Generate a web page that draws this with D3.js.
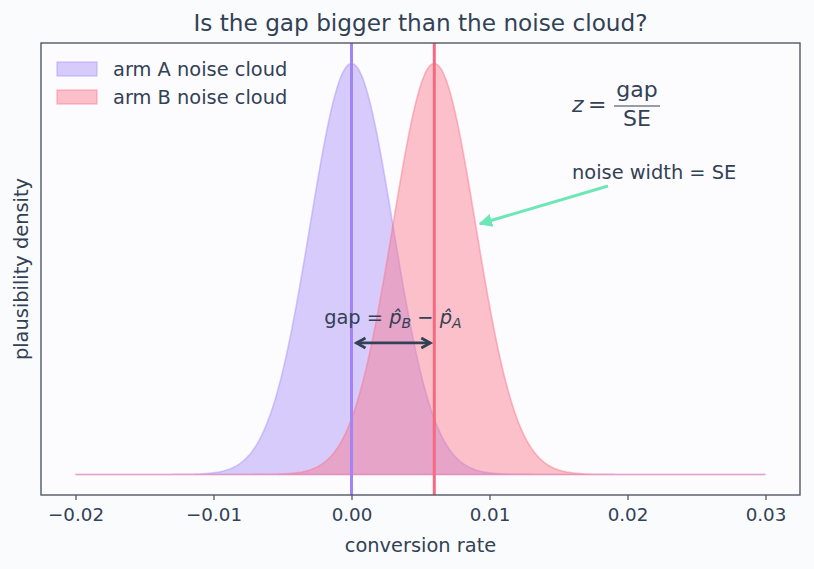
<!DOCTYPE html>
<html>
<head>
<meta charset="utf-8">
<script src="https://cdn.jsdelivr.net/npm/d3@7"></script>
<style>
  body { margin: 0; background: #fafbfd; }
  text { font-family: "DejaVu Sans", sans-serif; fill: #334155; }
</style>
</head>
<body>
<svg id="chart"></svg>
<script>
// arms: noise cloud centres and the shared standard error
var armNames = ["arm A noise cloud", "arm B noise cloud"];
var armMeans = [0.000, 0.006];
var armSE = [0.003, 0.003];
var armColors = ["#a78bfa", "#fb7185"];
var lineColors = ["#a384f7", "#f66a80"];

// x extent of the sampled curves and the tick labels
var xExtent = [-0.02, 0.03];
var xTicks = [-0.02, -0.01, 0.00, 0.01, 0.02, 0.03];
var nSamples = 400;

var screen = {width: 814, height: 569};
var margins = {top: 43, bottom: 74, left: 41, right: 14};
var graph = {
    width: screen.width - margins.left - margins.right,
    height: screen.height - margins.top - margins.bottom
};

var normalPdf = function(x, mu, sd)
{
    var z = (x - mu) / sd;
    return Math.exp(-0.5 * z * z) / (sd * Math.sqrt(2 * Math.PI));
}

var svg = d3.select("#chart")
    .attr("width", screen.width)
    .attr("height", screen.height);

svg.append("rect")
    .attr("width", screen.width)
    .attr("height", screen.height)
    .attr("fill", "#fafbfd");

// sample points for each arm
var xs = d3.range(nSamples).map(function(i) {
    return xExtent[0] + (xExtent[1] - xExtent[0]) * i / (nSamples - 1);
});
var curves = armMeans.map(function(mu, k) {
    return xs.map(function(x) { return {x: x, y: normalPdf(x, mu, armSE[k])}; });
});
var peak = d3.max(curves, function(c) { return d3.max(c, function(d) { return d.y; }); });

// matplotlib-style 5% padding
var xPad = (xExtent[1] - xExtent[0]) * 0.05;
var xScale = d3.scaleLinear()
    .domain([xExtent[0] - xPad, xExtent[1] + xPad])
    .range([0, graph.width]);
var yScale = d3.scaleLinear()
    .domain([-0.05 * peak, 1.05 * peak])
    .range([graph.height, 0]);

var g = svg.append("g")
    .attr("transform", "translate(" + margins.left + "," + margins.top + ")");

g.append("rect")
    .attr("width", graph.width)
    .attr("height", graph.height)
    .attr("fill", "#fcfcfe");

//noise clouds
var area = d3.area()
    .x(function(d) { return xScale(d.x); })
    .y0(yScale(0))
    .y1(function(d) { return yScale(d.y); });

g.selectAll(".cloud")
    .data(curves)
    .enter()
    .append("path")
    .classed("cloud", true)
    .attr("d", function(d) { return area(d) + "Z"; })
    .attr("fill", function(d, i) { return armColors[i]; })
    .attr("fill-opacity", 0.43)
    .attr("stroke", function(d, i) { return armColors[i]; })
    .attr("stroke-opacity", 0.45)
    .attr("stroke-width", 1.6);

//mean lines
g.selectAll(".meanline")
    .data(armMeans)
    .enter()
    .append("line")
    .classed("meanline", true)
    .attr("x1", function(d) { return xScale(d); })
    .attr("x2", function(d) { return xScale(d); })
    .attr("y1", 0)
    .attr("y2", graph.height)
    .attr("stroke", function(d, i) { return lineColors[i]; })
    .attr("stroke-width", 3);

//axes
var xAxis = d3.axisBottom(xScale)
    .tickValues(xTicks)
    .tickSize(5)
    .tickPadding(8)
    .tickFormat(function(d) { return d3.format(".2f")(d).replace("-", "\u2212"); });

var xg = g.append("g")
    .attr("transform", "translate(0," + graph.height + ")")
    .call(xAxis);
xg.select(".domain").remove();
xg.selectAll("line").attr("stroke", "#525866").attr("stroke-width", 1.3);
xg.selectAll("text")
    .attr("font-size", 18.3)
    .attr("fill", "#334155")
    .attr("font-family", "DejaVu Sans, sans-serif");

g.append("rect")
    .attr("width", graph.width)
    .attr("height", graph.height)
    .attr("fill", "none")
    .attr("stroke", "#525866")
    .attr("stroke-width", 1.4);

//labels
svg.append("text")
    .attr("x", margins.left + graph.width / 2)
    .attr("y", 31)
    .attr("text-anchor", "middle")
    .attr("font-size", 23.2)
    .text("Is the gap bigger than the noise cloud?");

svg.append("text")
    .attr("x", margins.left + graph.width / 2)
    .attr("y", 552)
    .attr("text-anchor", "middle")
    .attr("font-size", 19.4)
    .text("conversion rate");

svg.append("text")
    .attr("transform", "translate(28," + (margins.top + graph.height / 2) + ") rotate(-90)")
    .attr("text-anchor", "middle")
    .attr("font-size", 19.4)
    .text("plausibility density");

//legend
var legend = svg.append("g")
    .attr("transform", "translate(57,62)");
var items = legend.selectAll("g")
    .data(armNames)
    .enter()
    .append("g")
    .attr("transform", function(d, i) { return "translate(0," + (i * 28) + ")"; });
items.append("rect")
    .attr("width", 40)
    .attr("height", 14)
    .attr("fill", function(d, i) { return armColors[i]; })
    .attr("fill-opacity", 0.43)
    .attr("stroke", function(d, i) { return armColors[i]; })
    .attr("stroke-opacity", 0.45)
    .attr("stroke-width", 1.4);
items.append("text")
    .attr("x", 56)
    .attr("y", 14)
    .attr("font-size", 19.4)
    .text(function(d) { return d; });

//gap annotation
var defs = svg.append("defs");
defs.append("marker")
    .attr("id", "green-head")
    .attr("viewBox", "0 0 10 10")
    .attr("refX", 9).attr("refY", 5)
    .attr("markerWidth", 4.5).attr("markerHeight", 4.5)
    .attr("orient", "auto")
    .append("path")
    .attr("d", "M0,0 L10,5 L0,10 Z")
    .attr("fill", "#6ee7b7");

var gapY = yScale(0.32 * peak);
var gx0 = xScale(armMeans[0]) + 5, gx1 = xScale(armMeans[1]) - 4;
g.append("line")
    .attr("x1", gx0).attr("x2", gx1)
    .attr("y1", gapY).attr("y2", gapY)
    .attr("stroke", "#334155")
    .attr("stroke-width", 2.8);
g.append("path")
    .attr("d", "M" + (gx0 + 9) + "," + (gapY - 5) + " L" + gx0 + "," + gapY + " L" + (gx0 + 9) + "," + (gapY + 5)
        + " M" + (gx1 - 9) + "," + (gapY - 5) + " L" + gx1 + "," + gapY + " L" + (gx1 - 9) + "," + (gapY + 5))
    .attr("fill", "none")
    .attr("stroke", "#334155")
    .attr("stroke-width", 2.8)
    .attr("stroke-linejoin", "miter");

var gapText = g.append("text")
    .attr("x", xScale((armMeans[0] + armMeans[1]) / 2))
    .attr("y", gapY - 19)
    .attr("text-anchor", "middle")
    .attr("font-size", 19.4);
gapText.append("tspan").text("gap = ");
gapText.append("tspan").attr("font-style", "italic").text("p\u0302");
gapText.append("tspan").attr("font-style", "italic").attr("font-size", 14).attr("dy", 4).text("B");
gapText.append("tspan").attr("dy", -4).text(" \u2212 ");
gapText.append("tspan").attr("font-style", "italic").text("p\u0302");
gapText.append("tspan").attr("font-style", "italic").attr("font-size", 14).attr("dy", 4).text("A");

//z formula
var zg = svg.append("g").attr("transform", "translate(572,112)");
zg.append("text").attr("font-size", 22).attr("font-style", "italic").text("z");
zg.append("text").attr("x", 16).attr("font-size", 22).text("=");
zg.append("line")
    .attr("x1", 42).attr("x2", 88)
    .attr("y1", -6).attr("y2", -6)
    .attr("stroke", "#334155").attr("stroke-width", 1.2);
zg.append("text").attr("x", 65).attr("y", -15).attr("text-anchor", "middle").attr("font-size", 22).text("gap");
zg.append("text").attr("x", 65).attr("y", 14).attr("text-anchor", "middle").attr("font-size", 22).text("SE");

//noise width annotation
svg.append("text")
    .attr("x", 572)
    .attr("y", 179)
    .attr("font-size", 19.4)
    .text("noise width = SE");

var tip = {x: xScale(armMeans[1] + armSE[1] * 1.1), y: yScale(0.61 * peak)};
g.append("line")
    .attr("x1", 608 - margins.left).attr("y1", 186 - margins.top)
    .attr("x2", tip.x).attr("y2", tip.y)
    .attr("stroke", "#6ee7b7")
    .attr("stroke-width", 3)
    .attr("marker-end", "url(#green-head)");
</script>
</body>
</html>
